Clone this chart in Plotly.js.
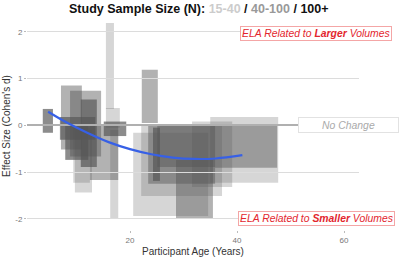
<!DOCTYPE html>
<html><head><meta charset="utf-8">
<script src="https://cdn.plot.ly/plotly-3.0.1.min.js"></script>
<style>html,body{margin:0;padding:0;background:#fff}#chart{width:400px;height:258px}</style>
</head><body><div id="chart"></div>
<script>
// Study rectangles: age range (x) and effect-size interval (y)
const ageMin  = [3.7, 7.1, 8.8, 10.8, 6.9, 9.4, 9.7, 12.5, 15.1, 15.5, 16.3, 15.5, 7.9, 22.2, 20.6, 22.1, 23.4, 24.3, 28.6, 35.0, 31.6, 35.9, 25.1];
const ageMax  = [5.6, 11.0, 14.6, 13.8, 13.5, 12.5, 12.9, 17.8, 19.3, 17.0, 17.8, 18.1, 12.2, 25.2, 34.6, 37.2, 35.9, 25.6, 35.5, 47.7, 39.1, 47.5, 35.9];
const dLow    = [-0.16, -0.52, -0.67, -0.89, -0.31, -1.23, -1.44, -1.17, -0.23, 0.35, -2.0, -0.05, -0.74, 0.05, -1.94, -1.51, -1.25, -1.19, -2.0, -1.23, -1.32, -0.91, -0.89];
const dHigh   = [0.35, 0.85, 0.74, 0.55, 0.18, -0.05, -0.10, 0.01, 0.08, 2.19, -0.10, 0.37, 0.01, 1.19, -0.16, 0.01, 0.03, -0.05, -0.74, 0.18, 0.08, 0.01, 0.01];
const sampleGroup = ["100+", "40-100", "40-100", "100+", "100+", "15-40", "15-40", "40-100", "100+", "15-40", "15-40", "15-40", "100+", "40-100", "15-40", "15-40", "40-100", "100+", "40-100", "15-40", "15-40", "40-100", "40-100"];

// Smooth trend line
const trendAge = [4.7, 8, 12, 16, 20, 24, 28, 32, 36, 41];
const trendD   = [0.29, 0.07, -0.16, -0.36, -0.51, -0.62, -0.69, -0.72, -0.71, -0.64];

// Axis ticks
const yTickVals = [-2, -1, 0, 1, 2];
const yTickText = ["-2", "-1", "0", "1", "2"];
const xTickVals = [20, 40, 60];
const xTickText = ["20", "40", "60"];

const groupAlpha = {"15-40": 0.24, "40-100": 0.45, "100+": 0.68};

const shapes = ageMin.map((a, i) => ({
  type: 'rect', xref: 'x', yref: 'y', layer: 'below',
  x0: a, x1: ageMax[i], y0: dLow[i], y1: dHigh[i],
  fillcolor: 'rgba(85,85,85,' + groupAlpha[sampleGroup[i]] + ')',
  line: {width: 0}
}));

const trace = {
  x: trendAge, y: trendD, type: 'scatter', mode: 'lines',
  line: {color: '#3760e6', width: 2.2, shape: 'spline'},
  hoverinfo: 'skip'
};

const font = 'Liberation Sans, Arial, sans-serif';

const layout = {
  width: 400, height: 258,
  margin: {l: 27, r: 41, t: 22, b: 28},
  paper_bgcolor: '#fff', plot_bgcolor: '#fff',
  showlegend: false,
  font: {family: font, color: '#444'},
  title: {
    text: '<b>Study Sample Size (N): <span style="color:#cccccc">15-40</span> / <span style="color:#999999">40-100</span> / 100+</b>',
    font: {size: 12.5, color: '#111', family: font},
    x: 0.497, xref: 'container', xanchor: 'center',
    y: 0.968, yref: 'container', yanchor: 'middle'
  },
  xaxis: {
    range: [0.75, 62.8], showgrid: false, zeroline: false, showline: false,
    tickvals: xTickVals, ticktext: xTickText,
    ticks: 'outside', ticklen: 2, tickcolor: '#bbb', tickwidth: 1,
    tickfont: {size: 8, color: '#777', family: font},
    title: {text: 'Participant Age (Years)', font: {size: 10, color: '#333', family: font}, standoff: 4},
    automargin: false
  },
  yaxis: {
    range: [-2.24, 2.21], showgrid: true, gridcolor: '#dcdcdc', gridwidth: 1,
    zeroline: true, zerolinecolor: '#b0b0b0', zerolinewidth: 2, showline: false,
    tickvals: yTickVals, ticktext: yTickText,
    ticks: 'outside', ticklen: 2, tickcolor: '#bbb', tickwidth: 1,
    tickfont: {size: 8, color: '#777', family: font},
    title: {text: 'Effect Size (Cohen\'s d)', font: {size: 10, color: '#333', family: font}, standoff: 2},
    automargin: false
  },
  shapes: shapes,
  annotations: [
    {x: 54.8, y: 1.97, xref: 'x', yref: 'y', showarrow: false,
     text: '<i>ELA Related to <b>Larger</b> Volumes</i>',
     font: {size: 10.4, color: '#e3262e', family: font},
     bgcolor: '#fff', bordercolor: '#f4a6a6', borderwidth: 1, borderpad: 1},
    {x: 51.4, y: 0, xref: 'x', yref: 'y', xanchor: 'left', showarrow: false,
     text: '<i>No Change</i>', width: 97, height: 12, align: 'center',
     font: {size: 10.4, color: '#aaa', family: font},
     bgcolor: '#fff', bordercolor: '#e2e2e2', borderwidth: 1, borderpad: 1},
    {x: 54.9, y: -2.0, xref: 'x', yref: 'y', showarrow: false,
     text: '<i>ELA Related to <b>Smaller</b> Volumes</i>',
     font: {size: 10.4, color: '#e3262e', family: font},
     bgcolor: '#fff', bordercolor: '#f4a6a6', borderwidth: 1, borderpad: 1}
  ]
};

Plotly.newPlot('chart', [trace], layout, {staticPlot: true, displayModeBar: false});
</script>
</body></html>
